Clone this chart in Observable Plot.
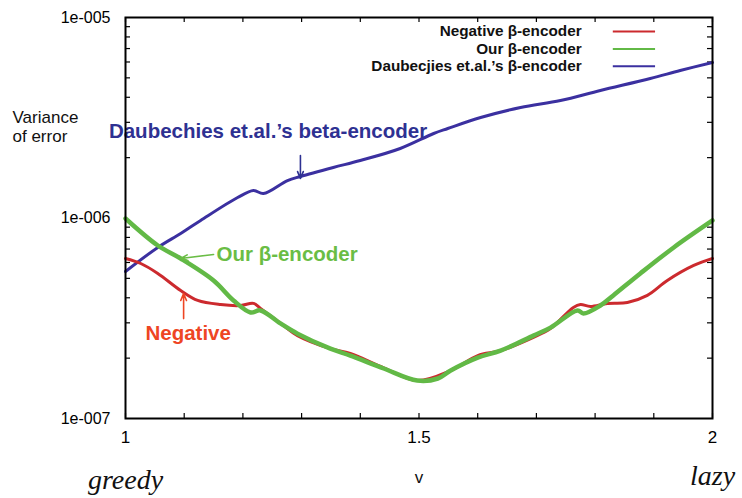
<!DOCTYPE html>
<html><head><meta charset="utf-8">
<script src="https://cdn.jsdelivr.net/npm/d3@7"></script>
<script src="https://cdn.jsdelivr.net/npm/@observablehq/plot@0.6"></script>
<style>body{margin:0;background:#fff;font-family:"Liberation Sans",Arial,sans-serif}</style>
</head><body><div id="chart"></div>
<script>
const blueX = [1.000,1.055,1.094,1.128,1.191,1.218,1.235,1.276,1.298,1.354,1.400,1.468,1.525,1.549,1.605,1.673,1.741,1.809,1.894,1.945,2.000];
const blueY = [5.41e-7,7.13e-7,8.37e-7,9.72e-7,1.265e-6,1.371e-6,1.325e-6,1.538e-6,1.611e-6,1.786e-6,1.935e-6,2.222e-6,2.639e-6,2.795e-6,3.171e-6,3.557e-6,3.855e-6,4.324e-6,4.963e-6,5.44e-6,5.965e-6];
const greenX = [1.000,1.055,1.094,1.150,1.184,1.213,1.230,1.264,1.293,1.349,1.383,1.440,1.497,1.532,1.554,1.600,1.639,1.695,1.724,1.770,1.780,1.809,1.831,1.877,1.934,2.000];
const greenY = [9.94e-7,7.29e-7,6.28e-7,4.88e-7,3.88e-7,3.38e-7,3.46e-7,2.98e-7,2.65e-7,2.23e-7,2.06e-7,1.776e-7,1.547e-7,1.583e-7,1.735e-7,2.01e-7,2.18e-7,2.59e-7,2.84e-7,3.46e-7,3.34e-7,3.66e-7,4.11e-7,5.29e-7,7.13e-7,9.72e-7];
const redX = [1.000,1.026,1.055,1.094,1.123,1.162,1.196,1.218,1.230,1.269,1.293,1.349,1.383,1.440,1.497,1.554,1.600,1.639,1.695,1.724,1.763,1.775,1.792,1.821,1.855,1.889,1.923,1.968,2.000];
const redY = [6.28e-7,5.93e-7,5.29e-7,4.35e-7,3.88e-7,3.70e-7,3.66e-7,3.75e-7,3.54e-7,2.91e-7,2.59e-7,2.23e-7,2.11e-7,1.79e-7,1.547e-7,1.735e-7,2.06e-7,2.18e-7,2.54e-7,2.81e-7,3.58e-7,3.70e-7,3.62e-7,3.75e-7,3.79e-7,4.11e-7,4.88e-7,5.80e-7,6.28e-7];

const seriesNames = ["Negative \u03b2-encoder","Our \u03b2-encoder","Daubecjies et.al.\u2019s \u03b2-encoder"];
const seriesColors = ["#cc2a2e","#62b946","#3b30a0"];
const xTickLabels = [1, 1.5, 2];
const yTickLabels = [1e-7, 1e-6, 1e-5];
const xMinorTicks = d3.range(1, 2.001, 0.1);
const yMinorTicks = [2,3,4,5,6,7,8,9].flatMap(m => [m*1e-7, m*1e-6]);

const legendY = [8.51e-6, 6.97e-6, 5.72e-6];
const legendRows = seriesNames.map((name, i) => ({name, color: seriesColors[i], y: legendY[i]}));
const legendTextX = 1.777, legendLineX1 = 1.831, legendLineX2 = 1.903;

const annotationsMiddle = [
  {text: "Daubechies et.al.\u2019s beta-encoder", x: 1.2428, y: 2.70e-6, color: "#2e3192"}
];
const annotationsStart = [
  {text: "Our \u03b2-encoder", x: 1.155, y: 6.58e-7, color: "#6abd45"},
  {text: "Negative", x: 1.034, y: 2.65e-7, color: "#ee4523"}
];
const arrows = [
  {x1: 1.298, y1: 2.05e-6, x2: 1.298, y2: 1.574e-6, color: "#2e3192"},
  {x1: 1.150, y1: 6.58e-7, x2: 1.094, y2: 6.28e-7, color: "#6abd45"},
  {x1: 1.099, y1: 3.15e-7, x2: 1.099, y2: 4.20e-7, color: "#ee4523"}
];

const toRows = (xs, ys) => xs.map((x, i) => ({x, y: ys[i]}));
const red = toRows(redX, redY), green = toRows(greenX, greenY), blue = toRows(blueX, blueY);

const fmtY = d => "1e-" + String(Math.round(-Math.log10(d))).padStart(3, "0");
const FW = 587, FH = 401;
const serif = "'Liberation Serif', 'DejaVu Serif', serif";

const chart = Plot.plot({
  width: 742, height: 498,
  marginLeft: 125, marginRight: 30, marginTop: 17, marginBottom: 80,
  style: {fontFamily: "'Liberation Sans', Arial, sans-serif", background: "#fff", overflow: "visible"},
  x: {domain: [1, 2]},
  y: {type: "log", domain: [1e-7, 1e-5]},
  marks: [
    Plot.axisX({ticks: xTickLabels, tickSize: 0, tickPadding: 12, tickFormat: d => String(d), fontSize: 17, label: null}),
    Plot.axisY({ticks: yTickLabels, tickSize: 0, tickPadding: 15, tickFormat: fmtY, fontSize: 16, label: null}),
    Plot.tickX(xMinorTicks, {x: d => d, insetTop: FH - 5, stroke: "#000", strokeWidth: 1.2}),
    Plot.tickX(xMinorTicks, {x: d => d, insetBottom: FH - 5, stroke: "#000", strokeWidth: 1.2}),
    Plot.tickY(yMinorTicks, {y: d => d, insetRight: FW - 5, stroke: "#000", strokeWidth: 1.2}),
    Plot.tickY(yMinorTicks, {y: d => d, insetLeft: FW - 5, stroke: "#000", strokeWidth: 1.2}),
    Plot.line(blue, {x: "x", y: "y", stroke: seriesColors[2], strokeWidth: 3, curve: "catmull-rom"}),
    Plot.line(red, {x: "x", y: "y", stroke: seriesColors[0], strokeWidth: 3, curve: "catmull-rom"}),
    Plot.line(green, {x: "x", y: "y", stroke: seriesColors[1], strokeWidth: 4.5, curve: "catmull-rom"}),
    Plot.text(legendRows, {x: () => legendTextX, y: "y", text: "name", textAnchor: "end", fontWeight: "bold", fontSize: 15.3, fill: "#111"}),
    Plot.ruleY(legendRows, {y: "y", x1: () => legendLineX1, x2: () => legendLineX2, stroke: "color", strokeWidth: 2}),
    Plot.text(annotationsMiddle, {x: "x", y: "y", text: "text", textAnchor: "middle", fill: "color", fontWeight: "bold", fontSize: 20.5}),
    Plot.text(annotationsStart, {x: "x", y: "y", text: "text", textAnchor: "start", fill: "color", fontWeight: "bold", fontSize: 20.5}),
    Plot.arrow(arrows, {x1: "x1", y1: "y1", x2: "x2", y2: "y2", stroke: "color", strokeWidth: 1.6, headLength: 7, headAngle: 45}),
    Plot.text(["Variance\nof error"], {frameAnchor: "top-left", lineAnchor: "middle", dx: -113, dy: 108.5, textAnchor: "start", fontSize: 17, lineHeight: 1.12, fill: "#111"}),
    Plot.text(["v"], {frameAnchor: "bottom", lineAnchor: "middle", dy: 59, fontSize: 17, fill: "#111"}),
    Plot.text(["greedy"], {x: () => 1, frameAnchor: "bottom", lineAnchor: "middle", dy: 62, fontSize: 28, fontStyle: "italic", fontFamily: serif, fill: "#111"}),
    Plot.text(["lazy"], {x: () => 2, frameAnchor: "bottom", lineAnchor: "middle", dy: 58, fontSize: 28, fontStyle: "italic", fontFamily: serif, fill: "#111"}),
    Plot.frame({stroke: "#000", strokeWidth: 2})
  ]
});
document.getElementById("chart").appendChild(chart);
</script>
</body></html>
